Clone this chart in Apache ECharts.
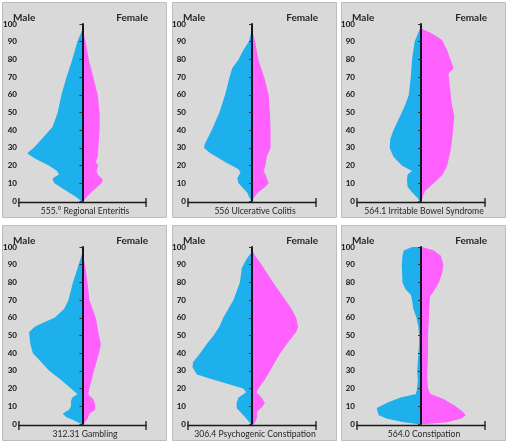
<!DOCTYPE html>
<html>
<head>
<meta charset="utf-8">
<script src="https://cdn.jsdelivr.net/npm/echarts@6/dist/echarts.min.js"></script>
<style>
html,body{margin:0;padding:0;background:#fff;}
#chart{width:509px;height:445px;}
</style>
</head>
<body>
<div id="chart"></div>
<script>
// Panel titles (bottom labels)
const titles = [
  "555.° Regional Enteritis",
  "556 Ulcerative Colitis",
  "564.1 Irritable Bowel Syndrome",
  "312.31 Gambling",
  "306.4 Psychogenic Constipation",
  "564.0 Constipation"
];
const sideLabels = ["Male", "Female"];
const ageTicks = [0, 10, 20, 30, 40, 50, 60, 70, 80, 90, 100];

// Each array: [age, relative frequency] (arbitrary units, axis spans -10..10)
const male1 = [[97,0],[90,0.8],[80,1.6],[70,2.5],[60,3.3],[50,3.9],[42,4.7],[35,6.4],[30,7.7],[27,8.7],[24,7.5],[20,5.3],[17,4.0],[15,3.7],[13,4.6],[12,4.7],[10,4.4],[5,2.2],[2,0.9],[0,0.2]];
const female1 = [[97,0],[90,0.5],[80,1.0],[70,1.7],[60,2.4],[50,2.7],[40,2.7],[30,2.5],[25,2.4],[22,2.1],[20,2.5],[17,2.2],[15,2.4],[12,3.2],[10,3.0],[5,1.4],[2,0.6],[0,0.2]];

const male2 = [[97,0],[90,0.5],[85,1.4],[80,2.1],[75,3.1],[70,3.5],[60,4.2],[50,5.1],[40,6.3],[32,7.4],[30,7.5],[27,6.5],[22,4.2],[18,2.1],[16,1.8],[13,2.3],[10,2.1],[8,1.6],[5,0.8],[2,0.4],[0,0.1]];
const female2 = [[97,0],[90,0.5],[80,1.0],[70,1.9],[60,2.6],[50,2.8],[40,2.9],[30,2.9],[25,2.3],[20,2.1],[17,1.8],[15,2.1],[12,2.4],[10,2.6],[8,2.1],[5,1.0],[2,0.3],[0,0.1]];

const male3 = [[97,0.2],[90,1.0],[80,1.4],[70,1.6],[60,1.9],[55,2.4],[50,3.0],[40,4.3],[35,4.8],[30,4.9],[25,4.3],[20,3.0],[17,1.4],[15,2.1],[12,2.2],[8,2.1],[5,1.4],[2,0.6],[0,0.2]];
const female3 = [[97,0.3],[95,1.5],[91,3.3],[85,4.1],[78,4.8],[75,5.1],[72,4.3],[65,4.5],[55,4.8],[48,5.2],[40,5.0],[30,4.7],[20,4.1],[15,3.4],[10,2.0],[6,0.7],[3,0.3],[0,0.1]];

const male4 = [[97,0],[90,0.6],[80,1.5],[70,2.2],[65,2.9],[60,4.4],[57,6.3],[55,7.5],[52,8.4],[48,8.3],[45,8.2],[40,7.8],[35,6.5],[30,5.2],[25,3.4],[20,1.8],[17,0.8],[15,1.6],[13,1.8],[10,1.8],[8,2.1],[6,3.1],[4,2.6],[2,1.3],[0,0.2]];
const female4 = [[97,0],[90,0.4],[80,0.8],[70,1.1],[60,2.1],[50,2.6],[45,2.9],[40,2.6],[30,1.8],[20,1.1],[17,0.9],[14,1.7],[11,2.0],[8,2.0],[6,1.1],[3,0.8],[0,0.2]];

const male5 = [[96,0.3],[93,0.9],[88,1.6],[85,1.7],[80,1.9],[75,2.4],[70,2.9],[60,4.5],[55,5.1],[50,6.0],[45,7.1],[40,8.1],[35,9.2],[32,9.3],[28,8.6],[25,6.0],[22,3.2],[20,1.4],[18,0.9],[15,2.1],[12,2.4],[9,2.4],[7,1.9],[4,1.1],[1,0.4],[0,0.2]];
const female5 = [[97,0.2],[95,0.5],[90,1.5],[80,3.3],[70,5.2],[65,6.2],[60,6.9],[55,7.2],[52,6.9],[45,5.4],[40,4.4],[30,2.8],[25,2.0],[20,1.0],[18,0.7],[15,1.5],[12,2.0],[10,1.7],[7,0.8],[4,0.8],[1,0.5],[0,0.3]];

const male6 = [[100,1.4],[98,2.7],[95,2.9],[90,3.0],[80,2.9],[76,2.4],[73,1.6],[70,1.4],[65,1.2],[60,0.7],[55,0.4],[50,0.3],[45,0.3],[40,0.4],[35,0.5],[30,0.6],[25,0.5],[20,0.6],[17,0.8],[15,3.2],[12,5.3],[9,6.9],[7,6.8],[5,6.6],[3,5.3],[1,2.7],[0,0.6]];
const female6 = [[100,0.2],[98,2.0],[95,3.1],[90,3.5],[85,3.3],[80,2.8],[75,2.0],[72,1.4],[65,1.3],[50,1.1],[40,1.1],[30,1.0],[25,1.0],[20,1.1],[17,1.5],[14,3.6],[10,5.4],[7,6.5],[5,7.0],[3,6.2],[1,4.1],[0,1.0]];

const maleSets = [male1, male2, male3, male4, male5, male6];
const femaleSets = [female1, female2, female3, female4, female5, female6];

const MALE_COLOR = '#1eb0ec';
const FEMALE_COLOR = '#ff61ff';
const FONT = 'Lato, "Open Sans", sans-serif';

const panelX = [2, 172, 341];
const panelY = [2, 225];
const PW = 164, PH = 215;

const grids = [], xAxes = [], yAxes = [], series = [], graphics = [];

for (let i = 0; i < 6; i++) {
  const col = i % 3, row = Math.floor(i / 3);
  const X = panelX[col], Y = panelY[row];
  const cx = X + 80;
  graphics.push({
    type: 'rect', z: 0,
    shape: { x: X + 0.5, y: Y + 0.5, width: PW, height: PH },
    style: { fill: '#d9d9d9', stroke: '#bdbdbd', lineWidth: 1 }
  });
  graphics.push({
    type: 'text', z: 20,
    style: { text: sideLabels[0], x: X + 11, y: Y + 16, font: 'bold 10px ' + FONT, fill: '#262626', textAlign: 'left', textVerticalAlign: 'middle' }
  });
  graphics.push({
    type: 'text', z: 20,
    style: { text: sideLabels[1], x: X + 146, y: Y + 16, font: 'bold 10px ' + FONT, fill: '#262626', textAlign: 'right', textVerticalAlign: 'middle' }
  });
  graphics.push({
    type: 'text', z: 20,
    style: { text: titles[i], x: cx + 3, y: Y + 209.5, font: '8.6px ' + FONT, fill: '#262626', textAlign: 'center', textVerticalAlign: 'middle' }
  });

  grids.push({ left: cx - 64, top: Y + 22, width: 128, height: 177 });
  xAxes.push({
    type: 'value', gridIndex: i, min: -10, max: 10, interval: 20, z: 10,
    axisLine: { onZero: false, show: true, lineStyle: { color: '#1a1a1a', width: 1.3 }, symbol: ['rect', 'rect'], symbolSize: [9, 1.3] },
    position: 'bottom', offset: 1.5,
    axisTick: { show: false }, axisLabel: { show: false }, splitLine: { show: false }
  });
  yAxes.push({
    type: 'value', gridIndex: i, min: ageTicks[0], max: ageTicks[ageTicks.length - 1], interval: 10, z: 10,
    axisLine: { show: true, onZero: true, lineStyle: { color: '#141428', width: 2 } },
    axisTick: { show: true, length: 3, lineStyle: { color: '#333' } },
    axisLabel: { show: true, margin: 2, fontSize: 8, fontWeight: 'bold', color: '#111', fontFamily: FONT },
    splitLine: { show: false }
  });

  [[maleSets[i], -1, MALE_COLOR], [femaleSets[i], 1, FEMALE_COLOR]].forEach(function (cfg) {
    const pts = cfg[0], sign = cfg[1], color = cfg[2];
    series.push({
      type: 'custom', xAxisIndex: i, yAxisIndex: i, z: 5,
      data: pts.map(p => [sign * p[1], p[0]]),
      encode: { x: 0, y: 1 },
      renderItem: function (params, api) {
        if (params.dataIndex !== 0) return null;
        const poly = [api.coord([0, pts[0][0]])];
        pts.forEach(p => poly.push(api.coord([sign * p[1], p[0]])));
        poly.push(api.coord([0, pts[pts.length - 1][0]]));
        return { type: 'polygon', shape: { points: poly }, style: { fill: color } };
      },
      silent: true
    });
  });
}

const chart = echarts.init(document.getElementById('chart'), null, { renderer: 'canvas' });
chart.setOption({
  animation: false,
  backgroundColor: '#ffffff',
  graphic: graphics,
  grid: grids,
  xAxis: xAxes,
  yAxis: yAxes,
  series: series
});
</script>
</body>
</html>
